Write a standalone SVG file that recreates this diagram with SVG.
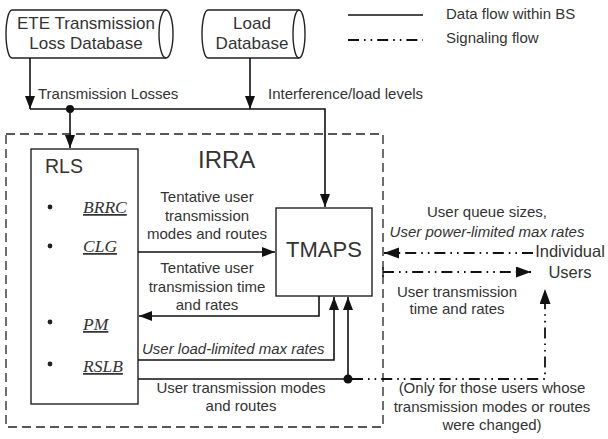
<svg xmlns="http://www.w3.org/2000/svg" width="608" height="439" viewBox="0 0 608 439">
<defs>
<marker id="ah" markerUnits="userSpaceOnUse" markerWidth="14" markerHeight="11" refX="13" refY="5" orient="auto">
<path d="M0,0 L13,5 L0,10 Z" fill="#111"/>
</marker>
<marker id="ahs" markerUnits="userSpaceOnUse" markerWidth="16" markerHeight="12" refX="15" refY="5.5" orient="auto">
<path d="M0,0 L15,5.5 L0,11 Z" fill="#111"/>
</marker>
</defs>
<style>
text{font-family:"Liberation Sans",Arial,sans-serif;fill:#333}
.c{text-anchor:middle}
.l{font-size:15px}
.db{font-size:17px}
.it{font-style:italic}
.tm{font-family:"Liberation Serif","Times New Roman",serif;font-style:italic;font-size:17.5px;text-decoration:underline}
.box{fill:#fff;stroke:#222;stroke-width:1.4}
.cyl{fill:#fff;stroke:#222;stroke-width:1.4}
.w{fill:none;stroke:#111;stroke-width:1.6}
.s{fill:none;stroke:#111;stroke-width:1.8;stroke-dasharray:11 5 1.6 5 1.6 5}
.dash{fill:none;stroke:#222;stroke-width:1.3;stroke-dasharray:9 5}
</style>
<rect width="608" height="439" fill="#fff"/>
<g id="irra">
<rect class="dash" x="6" y="134" width="377" height="293"/>
<text x="198" y="168" style="font-size:24px">IRRA</text>
</g>
<g id="ete-db">
<path class="cyl" d="M12,10 L166,10 A7,24 0 0 1 166,58 L12,58 A6,24 0 0 1 12,10 Z"/>
<path class="cyl" d="M166,58 A7,24 0 0 1 166,10" fill="none"/>
<text class="c db" x="86" y="29">ETE Transmission</text>
<text class="c db" x="86" y="49">Loss Database</text>
</g>
<g id="load-db">
<path class="cyl" d="M208,10 L299,10 A6,24 0 0 1 299,58 L208,58 A6,24 0 0 1 208,10 Z"/>
<path class="cyl" d="M299,58 A6,24 0 0 1 299,10" fill="none"/>
<text class="c db" x="252" y="29">Load</text>
<text class="c db" x="252" y="49">Database</text>
</g>
<g id="legend">
<line class="w" x1="348" y1="15" x2="423" y2="15"/>
<line class="s" x1="348" y1="40" x2="423" y2="40"/>
<text class="l" x="446" y="19">Data flow within BS</text>
<text class="l" x="446" y="43">Signaling flow</text>
</g>
<g id="rls">
<rect class="box" x="31" y="149" width="107" height="255"/>
<text x="45" y="173" style="font-size:19.5px">RLS</text>
<circle cx="50" cy="207" r="2.4" fill="#222"/>
<circle cx="50" cy="246" r="2.4" fill="#222"/>
<circle cx="50" cy="322" r="2.4" fill="#222"/>
<circle cx="50" cy="364" r="2.4" fill="#222"/>
<text class="tm" x="83" y="213">BRRC</text>
<text class="tm" x="83" y="252">CLG</text>
<text class="tm" x="83" y="330">PM</text>
<text class="tm" x="83" y="372">RSLB</text>
</g>
<g id="tmaps">
<rect class="box" x="276" y="208" width="96" height="88"/>
<text class="c" x="324" y="257" style="font-size:22px">TMAPS</text>
</g>
<g id="users">
<text class="c" x="570" y="257" style="font-size:16.5px">Individual</text>
<text class="c" x="570" y="278" style="font-size:16.5px">Users</text>
</g>
<g id="connectors">
<path class="w" d="M30,58 V109" marker-end="url(#ah)"/>
<path class="w" d="M250,58 V109" marker-end="url(#ah)"/>
<path class="w" d="M30,109 H325 V207" marker-end="url(#ah)"/>
<circle cx="70" cy="109" r="4" fill="#111"/>
<path class="w" d="M70,109 V148" marker-end="url(#ah)"/>
<path class="w" d="M138,252 H275" marker-end="url(#ah)"/>
<path class="w" d="M319,296 V316 H139" marker-end="url(#ah)"/>
<path class="w" d="M138,360 H334 V297" marker-end="url(#ah)"/>
<path class="w" d="M138,379 H348 V297" marker-end="url(#ah)"/>
<circle cx="348" cy="379" r="4.5" fill="#111"/>
<path class="s" d="M533,253 H384" marker-end="url(#ahs)"/>
<path class="s" d="M383,272 H531" marker-end="url(#ahs)"/>
<path class="s" d="M352,379 H545 V289" marker-end="url(#ahs)"/>
<line x1="383" y1="267" x2="383" y2="277" stroke="#111" stroke-width="1.3"/>
</g>
<g id="labels">
<text class="l" x="38" y="99">Transmission Losses</text>
<text class="l" x="268" y="99">Interference/load levels</text>
<text class="c l" x="207" y="202">Tentative user</text>
<text class="c l" x="207" y="221">transmission</text>
<text class="c l" x="207" y="239">modes and routes</text>
<text class="c l" x="207" y="273">Tentative user</text>
<text class="c l" x="207" y="292">transmission time</text>
<text class="c l" x="207" y="310">and rates</text>
<text class="l it" x="142" y="354">User load-limited max rates</text>
<text class="c l" x="241" y="393">User transmission modes</text>
<text class="c l" x="241" y="411">and routes</text>
<text class="c l" x="487" y="217">User queue sizes,</text>
<text class="c l it" x="487" y="237">User power-limited max rates</text>
<text class="c l" x="457" y="297">User transmission</text>
<text class="c l" x="457" y="314">time and rates</text>
<text class="c l" x="492" y="393">(Only for those users whose</text>
<text class="c l" x="492" y="412">transmission modes or routes</text>
<text class="c l" x="492" y="430">were changed)</text>
</g>
</svg>
